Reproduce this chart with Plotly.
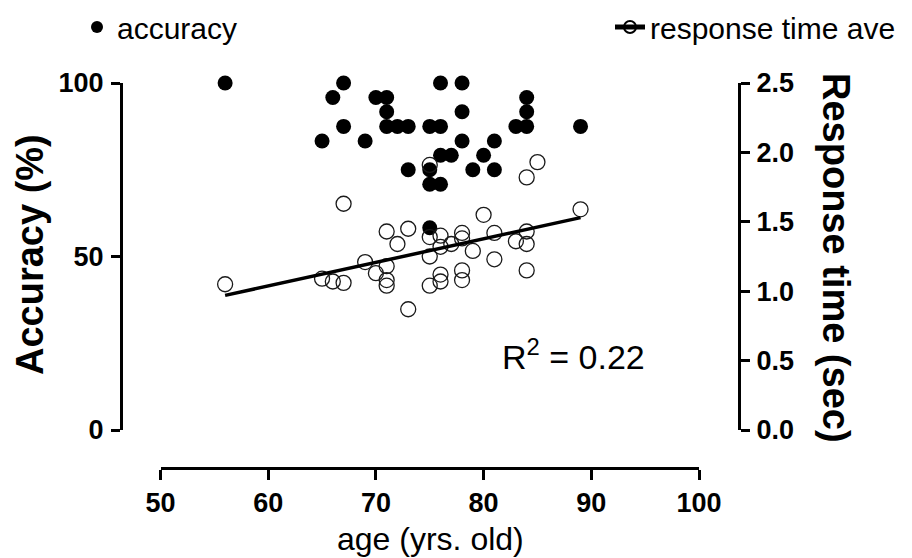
import plotly.graph_objects as go

# ---------------- data ----------------
age_acc = [56, 67, 76, 78,
           66, 70, 71, 84,
           71, 78, 84,
           67, 71, 72, 73, 75, 76, 83, 84, 89,
           65, 69, 78, 81,
           76, 77, 80,
           73, 75, 79, 81,
           75, 76,
           75]
acc = [100, 100, 100, 100,
       95.8, 95.8, 95.8, 95.8,
       91.7, 91.7, 91.7,
       87.5, 87.5, 87.5, 87.5, 87.5, 87.5, 87.5, 87.5, 87.5,
       83.3, 83.3, 83.3, 83.3,
       79.2, 79.2, 79.2,
       75, 75, 75, 75,
       70.8, 70.8,
       58.3]

age_rt = [56, 65, 66, 67, 67, 69, 70,
          71, 71, 71, 71, 72, 73, 73,
          75, 75, 75, 75, 76, 76, 76, 76, 77,
          78, 78, 78, 78, 79, 80, 81, 81, 83,
          84, 84, 84, 84, 85, 89]
rt = [1.05, 1.09, 1.07, 1.06, 1.63, 1.21, 1.13,
      1.43, 1.18, 1.08, 1.04, 1.34, 1.45, 0.87,
      1.91, 1.39, 1.25, 1.04, 1.40, 1.32, 1.12, 1.07, 1.34,
      1.42, 1.38, 1.15, 1.08, 1.29, 1.55, 1.42, 1.23, 1.36,
      1.82, 1.43, 1.34, 1.15, 1.93, 1.59]

fit_age = [56, 89]
fit_rt = [0.97, 1.53]

x_ticks = [50, 60, 70, 80, 90, 100]
acc_ticks = [0, 50, 100]
rt_ticks = [0.0, 0.5, 1.0, 1.5, 2.0, 2.5]

# ---------------- figure ----------------
FONT = "Liberation Sans, Arial, sans-serif"
W, H = 912, 558
OFF = 8  # page body margin: figure origin sits at (8, 8) in the screenshot
# plot area in screenshot pixels: x 121..739, y 83..468
L = 121 - OFF
T = 83 - OFF
R = W - (739 - OFF)
B = H - (468 - OFF)
PW, PH = W - L - R, H - T - B


def px_x(p):
    """screenshot x pixel -> paper fraction"""
    return (p - OFF - L) / PW


def px_y(p):
    """screenshot y pixel -> paper fraction"""
    return (H - B - (p - OFF)) / PH


fig = go.Figure()

fig.add_trace(go.Scatter(
    x=age_acc, y=acc, mode="markers", name="accuracy",
    marker=dict(symbol="circle", size=15, color="black"),
    cliponaxis=False, xaxis="x", yaxis="y", legend="legend"))

fig.add_trace(go.Scatter(
    x=age_rt, y=rt, mode="markers", showlegend=False,
    marker=dict(symbol="circle-open", size=15, color="#1a1a1a",
                line=dict(width=1.3)),
    cliponaxis=False, xaxis="x", yaxis="y2"))

fig.add_trace(go.Scatter(
    x=fit_age, y=fit_rt, mode="lines", showlegend=False,
    line=dict(color="black", width=3.5),
    cliponaxis=False, xaxis="x", yaxis="y2"))

# legend entry for response time (line + open circle)
fig.add_trace(go.Scatter(
    x=[None], y=[None], mode="lines+markers", name="response time ave",
    marker=dict(symbol="circle-open", size=12, color="black",
                line=dict(width=1.3)),
    line=dict(color="black", width=2.5),
    xaxis="x", yaxis="y2", legend="legend2"))

axis_common = dict(
    showline=True, linewidth=3, linecolor="black",
    ticks="outside", tickwidth=3, tickcolor="black",
    showgrid=False, zeroline=False,
    tickfont=dict(family=FONT, size=27, color="black", weight="bold"),
)

ydom = [px_y(430), 1]

legend_common = dict(
    orientation="h", xref="container", yref="container",
    xanchor="left", yanchor="middle",
    itemsizing="constant",
    font=dict(family=FONT, size=30, color="black"),
    bgcolor="rgba(0,0,0,0)",
)

fig.update_layout(
    width=W, height=H,
    margin=dict(l=L, r=R, t=T, b=B, autoexpand=False),
    paper_bgcolor="white", plot_bgcolor="white",
    showlegend=True,
    legend=dict(x=(77 - OFF) / W, y=1 - (27 - OFF) / H, **legend_common),
    legend2=dict(x=(610 - OFF) / W, y=1 - (27 - OFF) / H, **legend_common),
    xaxis=dict(
        domain=[px_x(160.5), px_x(699)], range=[50, 100],
        anchor="free", position=0,
        tickvals=x_ticks, ticklen=10, ticklabelstandoff=0,
        **axis_common),
    yaxis=dict(
        domain=ydom, range=[0, 100],
        anchor="free", position=0,
        tickvals=acc_ticks, ticklen=9, ticklabelstandoff=2,
        **axis_common),
    yaxis2=dict(
        domain=ydom, range=[0, 2.5], overlaying="y", side="right",
        anchor="free", position=1,
        tickvals=rt_ticks, tickformat=".1f", ticklen=9, ticklabelstandoff=1,
        **axis_common),
    annotations=[
        dict(text="Accuracy (%)", xref="paper", yref="paper",
             x=px_x(30), y=px_y(255), xanchor="center", yanchor="middle",
             textangle=-90, showarrow=False,
             font=dict(family=FONT, size=38, color="black", weight="bold")),
        dict(text="Response time (sec)", xref="paper", yref="paper",
             x=px_x(836), y=px_y(258), xanchor="center", yanchor="middle",
             textangle=90, showarrow=False,
             font=dict(family=FONT, size=38, color="black", weight="bold")),
        dict(text="age (yrs. old)", xref="paper", yref="paper",
             x=px_x(430), y=px_y(539), xanchor="center", yanchor="middle",
             showarrow=False,
             font=dict(family=FONT, size=32, color="black")),
        dict(text="R<sup>2</sup> = 0.22", xref="paper", yref="paper",
             x=px_x(573), y=px_y(354), xanchor="center", yanchor="middle",
             showarrow=False,
             font=dict(family=FONT, size=34, color="black")),
    ],
)

fig.write_html("out.html")
